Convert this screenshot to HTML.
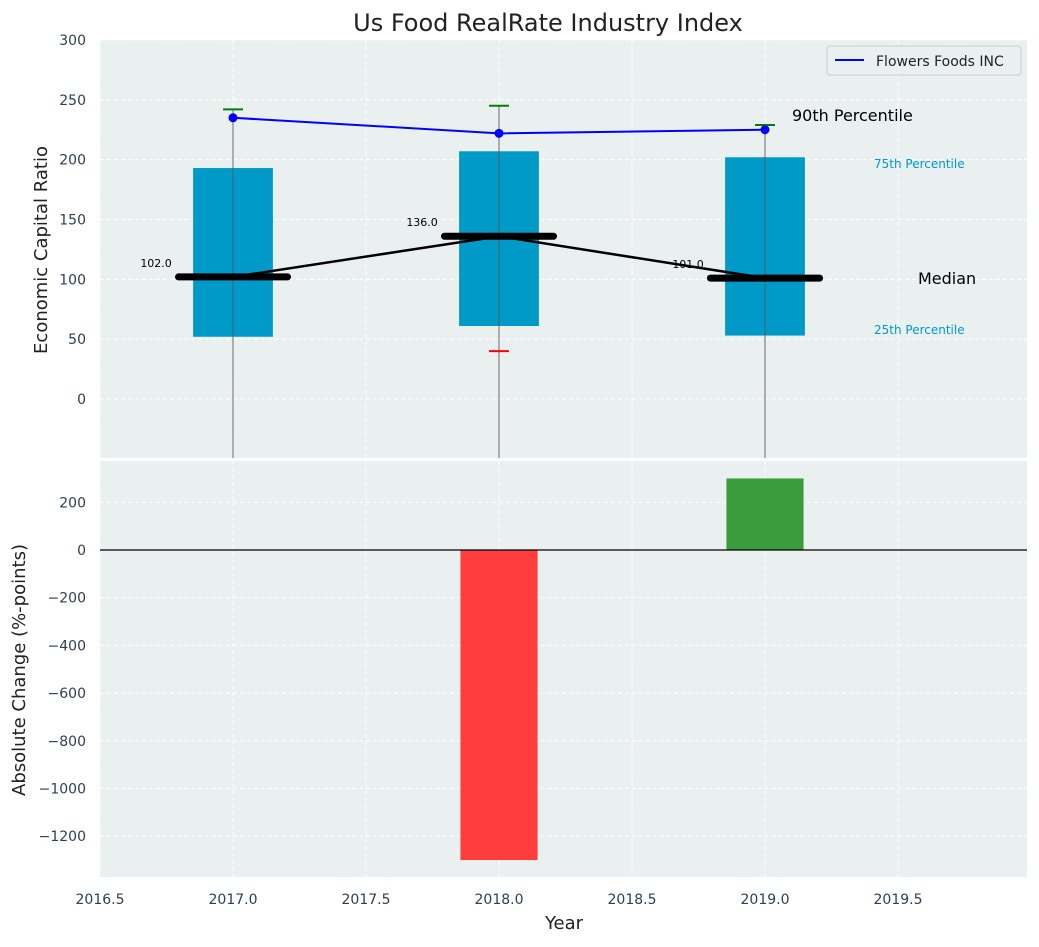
<!DOCTYPE html>
<html><head><meta charset="utf-8"><style>
body{margin:0;background:#fff;font-family:"Liberation Sans","DejaVu Sans",sans-serif}
svg text{font-family:"DejaVu Sans","Liberation Sans",sans-serif}
</style></head><body>
<svg id="c" width="1039" height="942" xmlns="http://www.w3.org/2000/svg"></svg>
<script>
const years=[2017,2018,2019];
const q25=[52,61,53];
const q75=[193,207,202];
const medians=[102,136,101];
const p90=[242,245,229];
const p10=[null,40,null];
const companyValues=[235,222,225];
const changeYears=[2018,2019];
const changeValues=[-1300,300];
const topTicks=[0,50,100,150,200,250,300];
const botTicks=[-1200,-1000,-800,-600,-400,-200,0,200];
const xTicks=[2016.5,2017,2017.5,2018,2018.5,2019,2019.5];

const svg=document.getElementById('c');
const NS='http://www.w3.org/2000/svg';
function mk(t,a,p){const e=document.createElementNS(NS,t);for(const k in a)e.setAttribute(k,a[k]);(p||svg).appendChild(e);return e;}
const X=v=>100+(v-2016.5)*266;
const YT=v=>399-v*1.1967;
const YB=v=>550-v*0.2385;
const L=100,R=1027,T1=40,B1=458,T2=461,B2=877;

let e;
e=mk('rect',{x:L,y:T1,width:R-L,height:B1-T1,fill:'#eaeff0'});


e=mk('rect',{x:L,y:T2,width:R-L,height:B2-T2,fill:'#eaeff0'});



xTicks.forEach(t=>{
  [[T1,B1],[T2,B2]].forEach(([a,b])=>{
    e=mk('line',{x1:X(t),x2:X(t),y1:a,y2:b,stroke:'#fff','stroke-dasharray':'4,3','stroke-width':1});
    
    
  });
});
topTicks.forEach(t=>{
  e=mk('line',{x1:L,x2:R,y1:YT(t),y2:YT(t),stroke:'#fff','stroke-dasharray':'4,3'});
  
  
  e=mk('text',{x:86,y:YT(t)+5,'text-anchor':'end','font-size':14,fill:'#2e3e55'});
  e.textContent=t;
  
  
});
botTicks.forEach(t=>{
  e=mk('line',{x1:L,x2:R,y1:YB(t),y2:YB(t),stroke:'#fff','stroke-dasharray':'4,3'});
  
  
  e=mk('text',{x:86,y:YB(t)+5,'text-anchor':'end','font-size':14,fill:'#2e3e55'});
  e.textContent=t===0?'0':(t<0?'\u2212'+(-t):t);
  
  
});
xTicks.forEach(t=>{
  e=mk('text',{x:X(t),y:904,'text-anchor':'middle','font-size':14,fill:'#2e3e55'});
  e.textContent=t.toFixed(1);
  
  
});

years.forEach((y,i)=>{
  e=mk('rect',{x:X(y-0.15),y:YT(q75[i]),width:X(y+0.15)-X(y-0.15),height:YT(q25[i])-YT(q75[i]),fill:'#009ac9'});
  
  
  e=mk('line',{x1:X(y),x2:X(y),y1:YT(p90[i]),y2:B1,stroke:'#555','stroke-width':1,opacity:0.85});
  
  
  e=mk('line',{x1:X(y-0.0375),x2:X(y+0.0375),y1:YT(p90[i]),y2:YT(p90[i]),stroke:'green','stroke-width':2});
  
  
  if(p10[i]!==null){
    e=mk('line',{x1:X(y-0.0375),x2:X(y+0.0375),y1:YT(p10[i]),y2:YT(p10[i]),stroke:'red','stroke-width':2});
    
    
  }
});
e=mk('polyline',{points:years.map((y,i)=>X(y)+','+YT(medians[i])).join(' '),fill:'none',stroke:'#000','stroke-width':2.5});


years.forEach((y,i)=>{
  e=mk('line',{x1:X(y-0.205),x2:X(y+0.205),y1:YT(medians[i]),y2:YT(medians[i]),stroke:'#000','stroke-width':7,'stroke-linecap':'round'});
  
  
  e=mk('text',{x:X(y-0.23),y:YT(medians[i])-10,'text-anchor':'end','font-size':11,fill:'#000'});
  e.textContent=medians[i].toFixed(1);
  
  
});
e=mk('polyline',{points:years.map((y,i)=>X(y)+','+YT(companyValues[i])).join(' '),fill:'none',stroke:'#0000ff','stroke-width':2});


years.forEach((y,i)=>{
  e=mk('circle',{cx:X(y),cy:YT(companyValues[i]),r:4.5,fill:'#0000ff'});
  
  
});
[['90th Percentile',792,121,16,'#000'],['75th Percentile',874,168,12,'#009ac9'],['Median',918,284,16,'#000'],['25th Percentile',874,334,12,'#009ac9']].forEach(a=>{
  e=mk('text',{x:a[1],y:a[2],'font-size':a[3],fill:a[4]});
  e.textContent=a[0];
  
  
});
e=mk('rect',{x:827,y:46,width:194,height:29,fill:'#eaeff0',stroke:'#ccc',rx:3});


e=mk('line',{x1:835,x2:864,y1:60,y2:60,stroke:'#0000ff','stroke-width':2});


e=mk('text',{x:876,y:66,'font-size':14,fill:'#222'});
e.textContent='Flowers Foods INC';



changeYears.forEach((y,i)=>{
  const v=changeValues[i];
  e=mk('rect',{x:X(y-0.145),y:Math.min(YB(0),YB(v)),width:X(y+0.145)-X(y-0.145),height:Math.abs(YB(v)-YB(0)),fill:v<0?'#ff3d3d':'#3a9c3c'});
  
  
});
e=mk('line',{x1:L,x2:R,y1:YB(0),y2:YB(0),stroke:'#000','stroke-width':1.3});



e=mk('text',{x:548,y:31,'text-anchor':'middle','font-size':24,fill:'#222'});
e.textContent='Us Food RealRate Industry Index';


e=mk('text',{x:564,y:929,'text-anchor':'middle','font-size':18,fill:'#222'});
e.textContent='Year';


e=mk('text',{x:0,y:0,'text-anchor':'middle','font-size':18,fill:'#222',transform:'translate(47,250) rotate(-90)'});
e.textContent='Economic Capital Ratio';


e=mk('text',{x:0,y:0,'text-anchor':'middle','font-size':18,fill:'#222',transform:'translate(25,670) rotate(-90)'});
e.textContent='Absolute Change (%-points)';


</script>
</body></html>
